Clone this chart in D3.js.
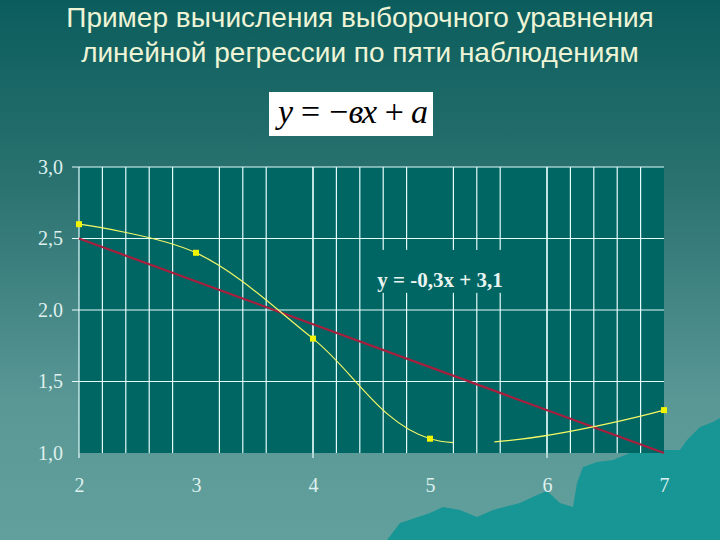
<!DOCTYPE html>
<html><head><meta charset="utf-8">
<script src="https://cdn.jsdelivr.net/npm/d3@7"></script>
<style>html,body{margin:0;padding:0;background:#0e5f5f;}svg{display:block;}</style>
</head><body>
<script>
// ---- data ----
const titleLines = ["Пример вычисления выборочного уравнения", "линейной регрессии по пяти наблюдениям"];
const formulaText = "y = −вx + a";
const xObs = [2, 3, 4, 5, 7];
const yObs = [2.6, 2.4, 1.8, 1.1, 1.3];
const regSlope = -0.3;
const regIntercept = 3.1;
const regX = [2, 7];
const regLabel = "y = -0,3x + 3,1";
const yTickValues = [3.0, 2.5, 2.0, 1.5, 1.0];
const yTickLabels = ["3,0", "2,5", "2.0", "1,5", "1,0"];
const xTickValues = [2, 3, 4, 5, 6, 7];
const xTickLabels = ["2", "3", "4", "5", "6", "7"];
const xGridValues = [2.2, 2.4, 2.6, 2.8, 3.2, 3.4, 3.6, 4.0, 4.2, 4.4, 4.6, 4.8, 5.2, 5.4, 5.6, 6.0, 6.2, 6.4, 6.6, 6.8];
const xTickMarks = [2, 4, 6];
const gapRange = [5.2, 5.55];

const W = 720, H = 540;
const svg = d3.select("body").append("svg").attr("width", W).attr("height", H);
const defs = svg.append("defs");
const bg = defs.append("linearGradient").attr("id", "bg").attr("x1", 0).attr("y1", 0).attr("x2", 0).attr("y2", 1);
bg.append("stop").attr("offset", "0%").attr("stop-color", "#0b5d5d");
bg.append("stop").attr("offset", "35%").attr("stop-color", "#2b7371");
bg.append("stop").attr("offset", "75%").attr("stop-color", "#5a9896");
bg.append("stop").attr("offset", "100%").attr("stop-color", "#61a09d");
svg.append("rect").attr("width", W).attr("height", H).attr("fill", "url(#bg)");

// decorative mountain silhouette
const mountain = [[387,540],[400,523],[430,513],[443,507],[460,510],[477,517],[493,510],[520,503],[537,495],[547,491],[560,503],[573,507],[577,483],[583,467],[597,462],[613,460],[630,453],[663,450],[680,450],[687,440],[700,427],[713,422],[720,418],[720,540]];
svg.append("path").attr("d", d3.line()(mountain) + "Z").attr("fill", "#189696");

// title
svg.append("g").selectAll("text").data(titleLines).join("text")
  .attr("x", 360).attr("y", (d, i) => 27 + i * 35)
  .attr("text-anchor", "middle")
  .attr("font-family", "Liberation Sans, Arial, sans-serif")
  .attr("font-size", 28).attr("fill", "#eef4d6").text(d => d);

// formula box
svg.append("rect").attr("x", 269).attr("y", 92).attr("width", 164).attr("height", 44).attr("fill", "#ffffff");
svg.append("text").attr("x", 278).attr("y", 123)
  .attr("textLength", 150).attr("lengthAdjust", "spacing")
  .attr("font-family", "Liberation Serif, Times New Roman, serif").attr("font-style", "italic")
  .attr("font-size", 34).attr("fill", "#000").text(formulaText);

// scales
const x = d3.scaleLinear().domain([2, 7]).range([79, 664]);
const y = d3.scaleLinear().domain([1, 3]).range([453, 167]);

// plot area
svg.append("rect").attr("x", x(2)).attr("y", y(3)).attr("width", x(7) - x(2)).attr("height", y(1) - y(3)).attr("fill", "#006664");

const grid = svg.append("g").attr("stroke", "#e6fbfb").attr("stroke-width", 1.2);
grid.selectAll("line.v").data(xGridValues).join("line").attr("class", "v")
  .attr("x1", d => x(d)).attr("x2", d => x(d)).attr("y1", y(3)).attr("y2", y(1));
grid.selectAll("line.h").data(yTickValues.filter(v => v > 1)).join("line").attr("class", "h")
  .attr("x1", x(2) - 7).attr("x2", x(7)).attr("y1", d => y(d)).attr("y2", d => y(d));
grid.selectAll("line.t").data(xTickMarks).join("line").attr("class", "t")
  .attr("x1", d => x(d)).attr("x2", d => x(d)).attr("y1", y(3)).attr("y2", y(1) + 5);

// label box hides the grid behind the regression equation
svg.append("rect").attr("x", x(4.5)).attr("y", y(2.42)).attr("width", x(5.7) - x(4.5)).attr("height", y(2.12) - y(2.42)).attr("fill", "#006664");
svg.append("text").attr("x", x(4.55)).attr("y", y(2.16))
  .attr("font-family", "Liberation Serif, Times New Roman, serif").attr("font-weight", "bold")
  .attr("font-size", 21).attr("fill", "#eaf4f0").text(regLabel);

// axis labels
const yAxis = d3.axisLeft(y).tickValues(yTickValues).tickFormat((d, i) => yTickLabels[i]).tickSize(0).tickPadding(16);
const ya = svg.append("g").attr("transform", `translate(${x(2)},0)`).call(yAxis);
ya.select(".domain").remove();
ya.selectAll("text").attr("font-family", "Liberation Serif, Times New Roman, serif").attr("font-size", 20).attr("fill", "#dff0ee");

const xAxis = d3.axisBottom(x).tickValues(xTickValues).tickFormat((d, i) => xTickLabels[i]).tickSize(0).tickPadding(25);
const xa = svg.append("g").attr("transform", `translate(0,${y(1)})`).call(xAxis);
xa.select(".domain").remove();
xa.selectAll("text").attr("font-family", "Liberation Serif, Times New Roman, serif").attr("font-size", 20).attr("fill", "#dff0ee");

// regression line
svg.append("path").datum(regX)
  .attr("d", d3.line().x(d => x(d)).y(d => y(regSlope * d + regIntercept)))
  .attr("fill", "none").attr("stroke", "#a81f3e").attr("stroke-width", 2.2);

// observed smoothed curve
const obs = xObs.map((v, i) => [v, yObs[i]]);
const curve = svg.append("path").datum(obs)
  .attr("d", d3.line().x(d => x(d[0])).y(d => y(d[1])).curve(d3.curveCatmullRom.alpha(0.5)))
  .attr("fill", "none").attr("stroke", "#f4f866").attr("stroke-width", 1.2);
// gap in the curve, as in the picture
const node = curve.node();
const total = node.getTotalLength();
function lenAtX(px) {
  let lo = 0, hi = total;
  for (let k = 0; k < 40; k++) {
    const mid = (lo + hi) / 2;
    if (node.getPointAtLength(mid).x < px) lo = mid; else hi = mid;
  }
  return lo;
}
const l1 = lenAtX(x(gapRange[0])), l2 = lenAtX(x(gapRange[1]));
curve.attr("stroke-dasharray", `${l1} ${l2 - l1} ${total}`);

svg.append("g").selectAll("rect").data(obs).join("rect")
  .attr("x", d => x(d[0]) - 3).attr("y", d => y(d[1]) - 3)
  .attr("width", 6).attr("height", 6).attr("fill", "#f2f500");
</script>
</body></html>
